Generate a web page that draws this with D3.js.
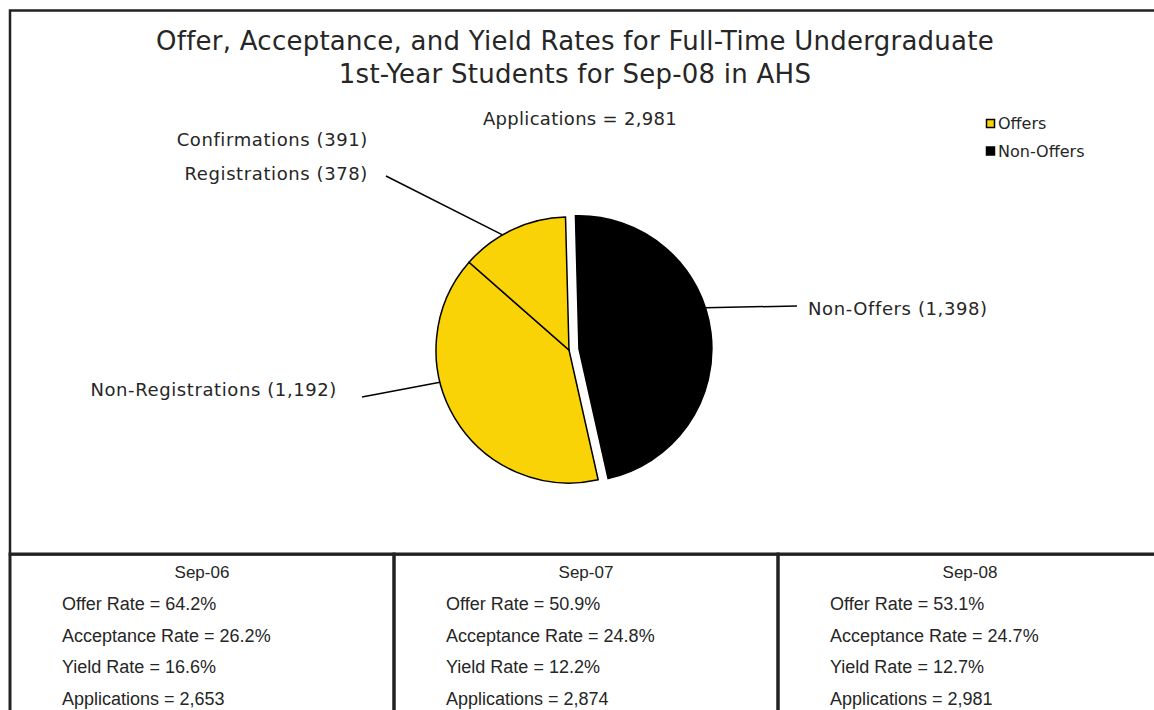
<!DOCTYPE html>
<html>
<head>
<meta charset="utf-8">
<script src="https://cdn.jsdelivr.net/npm/d3@7"></script>
<style>
  body { margin: 0; background: #fff; }
  svg { display: block; }
</style>
</head>
<body>
<script>
// pie slices (Sep-08)
var sliceLabels = ['Non-Offers', 'Non-Registrations', 'Confirmations'];
var sliceValues = [1398, 1192, 391];
var registrations = 378;
var totalApplications = 2981;

var legendLabels = ['Offers', 'Non-Offers'];

// table under the chart
var terms = ['Sep-06', 'Sep-07', 'Sep-08'];
var offerRates = [64.2, 50.9, 53.1];
var acceptanceRates = [26.2, 24.8, 24.7];
var yieldRates = [16.6, 12.2, 12.7];
var applications = [2653, 2874, 2981];

var width = 1154;
var height = 710;
var yellow = '#f9d305';
var ink = '#262626';
var labelFont = 'DejaVu Sans, Verdana, sans-serif';

var svg = d3.select('body')
  .append('svg')
  .attr('width', width)
  .attr('height', height);

// chart frame + table frame
svg.append('rect')
  .attr('x', 10).attr('y', 10.5)
  .attr('width', 1160).attr('height', 544)
  .attr('fill', 'none')
  .attr('stroke', '#222')
  .attr('stroke-width', 2.5);

var colX = d3.scaleBand().domain(terms).range([10, 1162]);

svg.selectAll('rect.cell')
  .data(terms)
  .enter()
  .append('rect')
  .classed('cell', true)
  .attr('x', function(d) { return colX(d); })
  .attr('y', 554)
  .attr('width', colX.bandwidth())
  .attr('height', 200)
  .attr('fill', 'none')
  .attr('stroke', '#222')
  .attr('stroke-width', 3);

// title
var title = svg.append('text')
  .attr('x', 575)
  .attr('font-family', labelFont)
  .attr('font-size', '26px')
  .attr('letter-spacing', '0.25px')
  .attr('fill', ink)
  .attr('text-anchor', 'middle');
title.append('tspan').attr('x', 575).attr('y', 50)
  .text('Offer, Acceptance, and Yield Rates for Full-Time Undergraduate');
title.append('tspan').attr('x', 575).attr('y', 83)
  .text('1st-Year Students for Sep-08 in AHS');

svg.append('text')
  .attr('x', 580).attr('y', 125)
  .attr('text-anchor', 'middle')
  .attr('font-family', labelFont)
  .attr('font-size', '18px')
  .attr('letter-spacing', '0.3px')
  .attr('fill', ink)
  .text('Applications = ' + d3.format(',')(totalApplications));

// pie
var cx = 569, cy = 350, radius = 133, explode = 10;
var startDeg = -1.5;

var pie = d3.pie()
  .sort(null)
  .startAngle(startDeg * Math.PI / 180)
  .endAngle((startDeg + 360) * Math.PI / 180);

var arcs = pie(sliceValues);
var arc = d3.arc().innerRadius(0).outerRadius(radius);

function sliceOffset(d, i) {
  // only the non-offers slice is pulled out
  if (i !== 0) return [0, 0];
  var mid = (d.startAngle + d.endAngle) / 2;
  return [Math.sin(mid) * explode, -Math.cos(mid) * explode];
}

var pieG = svg.append('g')
  .attr('transform', 'translate(' + cx + ',' + cy + ')');

pieG.selectAll('path')
  .data(arcs)
  .enter()
  .append('path')
  .attr('d', arc)
  .attr('transform', function(d, i) {
    var o = sliceOffset(d, i);
    return 'translate(' + o[0] + ',' + o[1] + ')';
  })
  .attr('fill', function(d, i) { return i === 0 ? '#000' : yellow; })
  .attr('stroke', '#000')
  .attr('stroke-width', 1.5);

// leader lines + labels
var labelLayout = [
  { slice: 0, angle: 72, x: 808, y: 315, anchor: 'start', lineTo: [797, 306] },
  { slice: 1, angle: 256, x: 337, y: 396, anchor: 'end', lineTo: [362, 397] },
  { slice: 2, angle: 330, x: 368, y: 180, anchor: 'end', lineTo: [386, 176] }
];

function edgePoint(l) {
  var a = l.angle * Math.PI / 180;
  var o = sliceOffset(arcs[l.slice], l.slice);
  return [cx + o[0] + Math.sin(a) * radius, cy + o[1] - Math.cos(a) * radius];
}

svg.selectAll('line.leader')
  .data(labelLayout)
  .enter()
  .append('line')
  .classed('leader', true)
  .attr('x1', function(d) { return edgePoint(d)[0]; })
  .attr('y1', function(d) { return edgePoint(d)[1]; })
  .attr('x2', function(d) { return d.lineTo[0]; })
  .attr('y2', function(d) { return d.lineTo[1]; })
  .attr('stroke', '#000')
  .attr('stroke-width', 1.5);

svg.selectAll('text.slice-label')
  .data(labelLayout)
  .enter()
  .append('text')
  .classed('slice-label', true)
  .attr('x', function(d) { return d.x; })
  .attr('y', function(d) { return d.y; })
  .attr('text-anchor', function(d) { return d.anchor; })
  .attr('font-family', labelFont)
  .attr('font-size', '18px')
  .attr('letter-spacing', '0.6px')
  .attr('fill', ink)
  .text(function(d) {
    // the small slice is labelled with registrations; confirmations go above it
    if (d.slice === 2) return 'Registrations (' + registrations + ')';
    return sliceLabels[d.slice] + ' (' + d3.format(',')(sliceValues[d.slice]) + ')';
  });

svg.append('text')
  .attr('x', 368).attr('y', 146)
  .attr('text-anchor', 'end')
  .attr('font-family', labelFont)
  .attr('font-size', '18px')
  .attr('letter-spacing', '0.6px')
  .attr('fill', ink)
  .text(sliceLabels[2] + ' (' + sliceValues[2] + ')');

// legend
var legend = svg.selectAll('g.legend')
  .data(legendLabels)
  .enter()
  .append('g')
  .classed('legend', true)
  .attr('transform', function(d, i) { return 'translate(986,' + (119 + i * 27.5) + ')'; });

legend.append('rect')
  .attr('x', 0.5).attr('y', 0.5)
  .attr('width', 8).attr('height', 8)
  .attr('fill', function(d, i) { return i === 0 ? yellow : '#000'; })
  .attr('stroke', '#000')
  .attr('stroke-width', 1.5);

legend.append('text')
  .attr('x', 12).attr('y', 10)
  .attr('font-family', labelFont)
  .attr('font-size', '16px')
  .attr('fill', ink)
  .text(function(d) { return d; });

// table text
var tableFont = 'Liberation Sans, Arial, sans-serif';
var cols = svg.selectAll('g.col')
  .data(terms)
  .enter()
  .append('g')
  .classed('col', true)
  .attr('transform', function(d) { return 'translate(' + colX(d) + ',0)'; });

cols.append('text')
  .attr('x', colX.bandwidth() / 2)
  .attr('y', 578)
  .attr('text-anchor', 'middle')
  .attr('font-family', tableFont)
  .attr('font-size', '17px')
  .attr('fill', ink)
  .text(function(d) { return d; });

var rowY = d3.scalePoint().domain([0, 1, 2, 3]).range([610, 705]);

cols.each(function(d, i) {
  var lines = [
    'Offer Rate = ' + offerRates[i].toFixed(1) + '%',
    'Acceptance Rate = ' + acceptanceRates[i].toFixed(1) + '%',
    'Yield Rate = ' + yieldRates[i].toFixed(1) + '%',
    'Applications = ' + d3.format(',')(applications[i])
  ];
  d3.select(this).selectAll('text.row')
    .data(lines)
    .enter()
    .append('text')
    .classed('row', true)
    .attr('x', 52)
    .attr('y', function(t, j) { return rowY(j); })
    .attr('font-family', tableFont)
    .attr('font-size', '18px')
    .attr('fill', ink)
    .text(function(t) { return t; });
});
</script>
</body>
</html>
